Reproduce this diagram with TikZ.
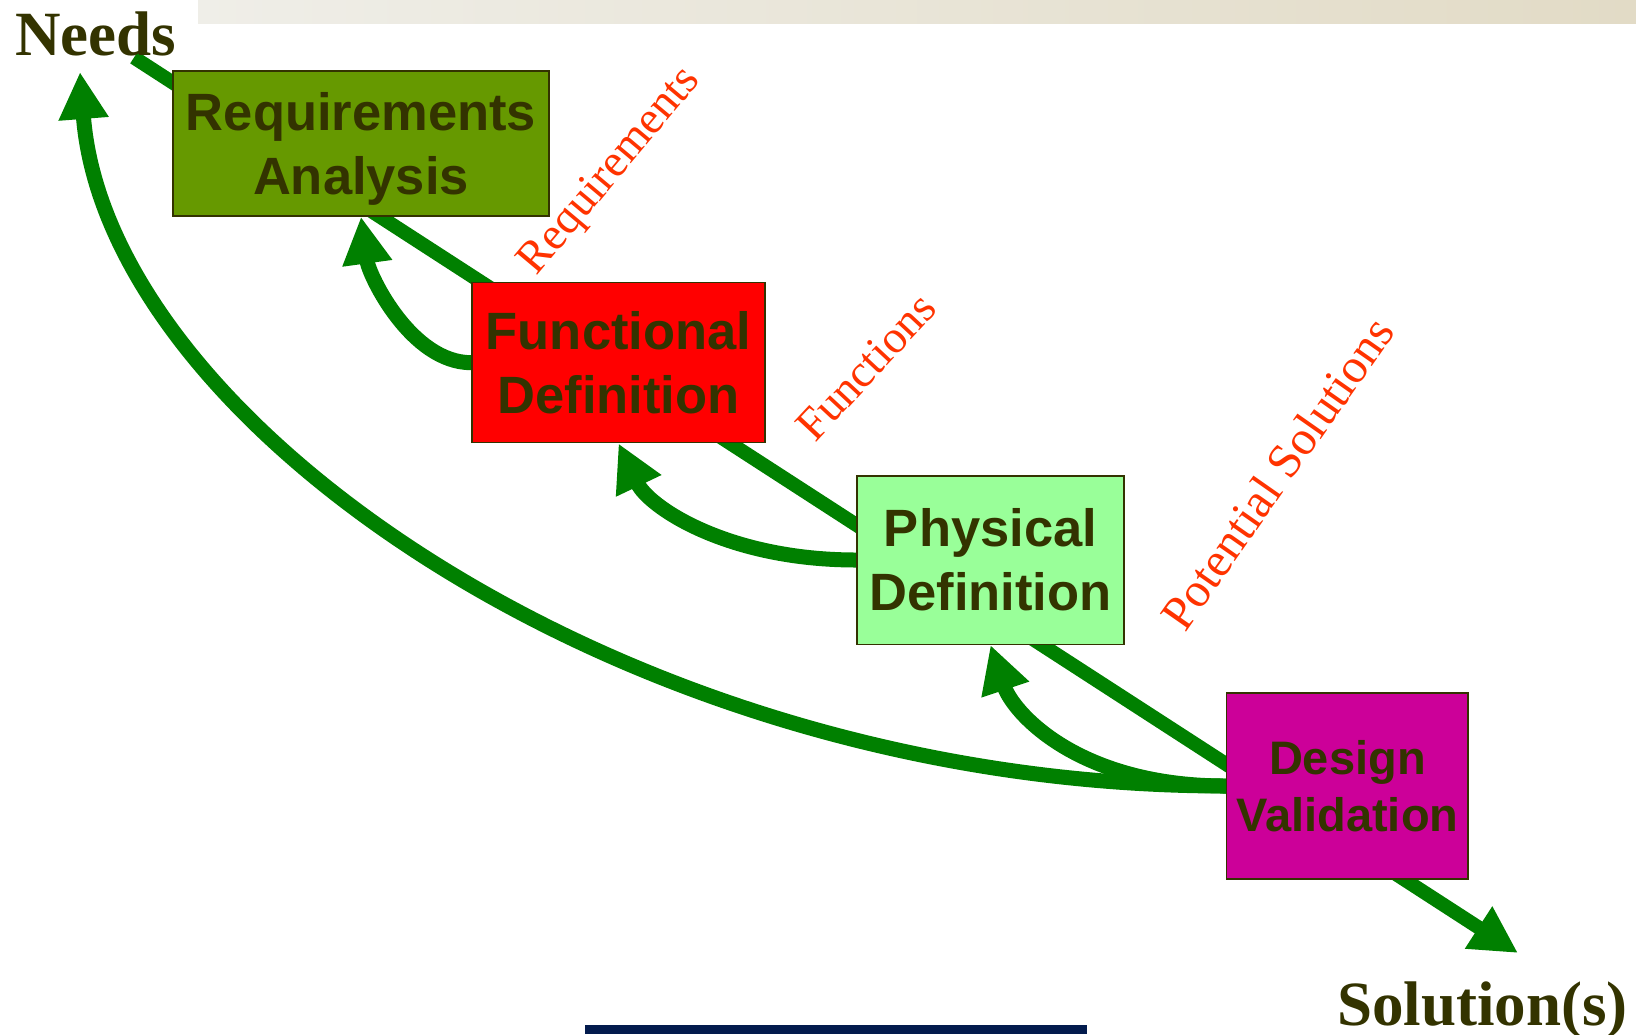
\documentclass[tikz,border=0pt]{standalone}
\usepackage{fontspec}
\setmainfont{Liberation Serif}
\setsansfont{Liberation Sans}
\usetikzlibrary{arrows.meta,backgrounds}

\definecolor{flowgreen}{HTML}{008000}
\definecolor{ink}{HTML}{333300}
\definecolor{reqfill}{HTML}{669900}
\definecolor{funcfill}{HTML}{FF0000}
\definecolor{physfill}{HTML}{99FF99}
\definecolor{dvfill}{HTML}{CC0099}
\definecolor{labelred}{HTML}{FF3300}
\definecolor{barnavy}{HTML}{031B4D}
\definecolor{barlight}{HTML}{EFEEE8}
\definecolor{bardark}{HTML}{E2DBC6}

\begin{document}
\begin{tikzpicture}[x=1pt,y=-1pt,
  stage/.style={draw=ink, line width=1.5pt, inner sep=0pt, align=center,
    text=ink, font=\sffamily\bfseries\fontsize{52.5}{64}\selectfont},
  mainflow/.style={draw=flowgreen, line width=14pt,
    -{Triangle[width=47pt,length=47pt]}},
  backflow/.style={draw=flowgreen, line width=15pt,
    -{Triangle[width=47pt,length=47pt]}},
  outlabel/.style={text=labelred, inner sep=0pt,
    font=\rmfamily\fontsize{46}{54}\selectfont},
  endlabel/.style={text=ink, inner sep=0pt, anchor=base west,
    font=\rmfamily\bfseries\fontsize{63}{70}\selectfont}]

\useasboundingbox (0,0) rectangle (1636,1034);

% decorative bars
\shade[left color=barlight, right color=bardark] (198,0) rectangle (1636,23);
\fill[barnavy] (585,1025) rectangle (1087,1034);

% end labels
\node[endlabel] (needs) at (15,55) {Needs};
\node[endlabel] (sol) at (1337,1025) {Solution(s)};

% process stages
\node[stage, fill=reqfill, minimum width=376pt, minimum height=145pt]
  (req) at (361,143.5) {Requirements\\Anal\smash{y}sis};
\node[stage, fill=funcfill, minimum width=293pt, minimum height=160pt]
  (func) at (618.5,362.7) {Functional\\Definition};
\node[stage, fill=physfill, minimum width=267pt, minimum height=168.5pt]
  (phys) at (990.5,560) {Physical\\Definition};
\node[stage, fill=dvfill, minimum width=241.5pt, minimum height=186pt,
  font=\sffamily\bfseries\fontsize{47}{57}\selectfont]
  (dv) at (1347.4,786) {Design\\Validation};

% outputs between stages
\node[outlabel, rotate=50] (lreq) at (611,172) {Requirements};
\node[outlabel, rotate=47] (lfunc) at (866,367) {Functions};
\node[outlabel, rotate=55, font=\rmfamily\fontsize{48.5}{56}\selectfont]
  (lpot) at (1277,473) {Potential Solutions};

% end points of the flow lines
\coordinate (flowstart) at (134,57.5);
\coordinate (flowend) at (1518,953);
\coordinate (needsin) at (80,72);

\begin{scope}[on background layer]
  % main downward flow
  \draw[mainflow] (flowstart) -- (flowend);
  % feedback loops
  \draw[backflow] (func.west) .. controls +(-60,0) and +(8,59) .. (req.south);
  \draw[backflow] (phys.west) .. controls +(-130,0) and +(30,63) .. (func.south);
  \draw[backflow] (dv.west) .. controls +(-150,0) and +(22,66) .. (phys.south);
  \draw[backflow] (dv.west) .. controls +(-600,0) and +(27,350) .. (needsin);
\end{scope}
\end{tikzpicture}
\end{document}
